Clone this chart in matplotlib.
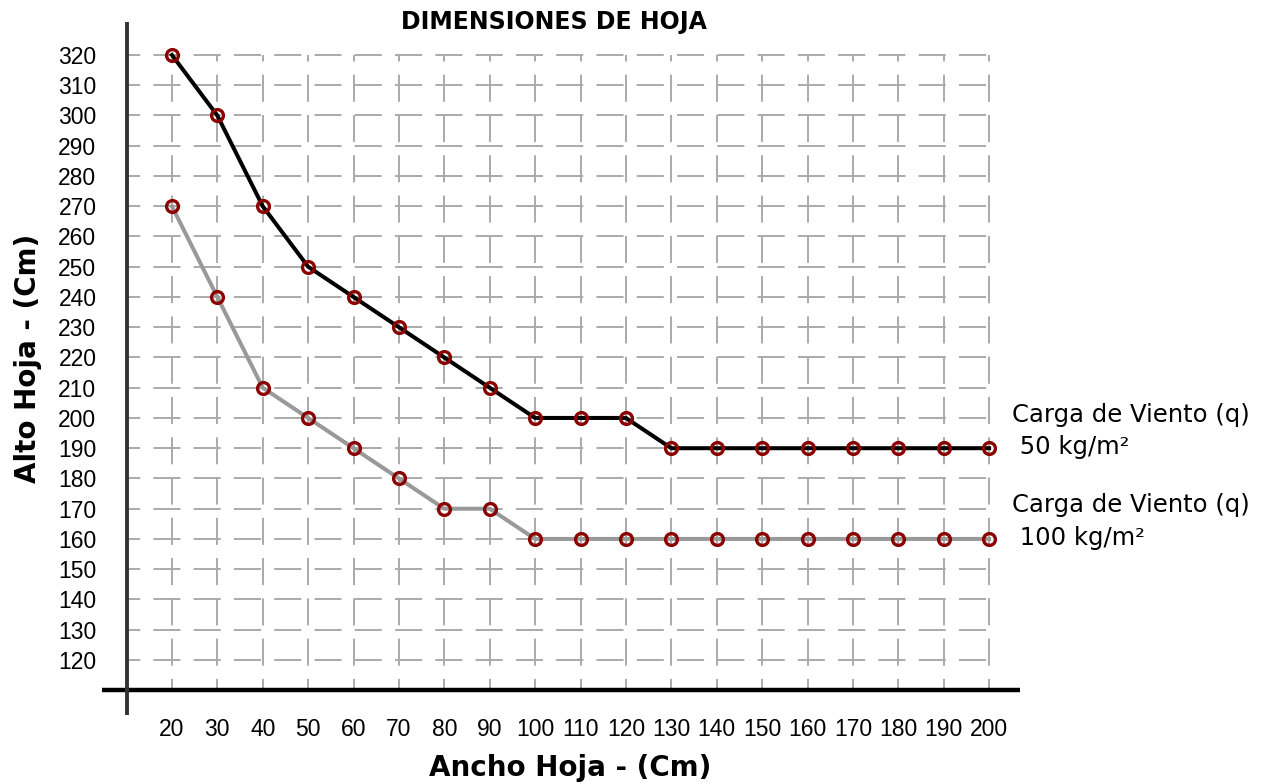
import numpy as np
import matplotlib
matplotlib.use('Agg')
import matplotlib.pyplot as plt

# data
anchos = [20, 30, 40, 50, 60, 70, 80, 90, 100, 110, 120, 130, 140, 150, 160, 170, 180, 190, 200]
alto_50 = [320, 300, 270, 250, 240, 230, 220, 210, 200, 200, 200, 190, 190, 190, 190, 190, 190, 190, 190]
alto_100 = [270, 240, 210, 200, 190, 180, 170, 170, 160, 160, 160, 160, 160, 160, 160, 160, 160, 160, 160]
y_ticks = list(range(120, 321, 10))
etiqueta_50 = "Carga de Viento (q)\n 50 kg/m²"
etiqueta_100 = "Carga de Viento (q)\n 100 kg/m²"

plt.rcParams['lines.scale_dashes'] = False
W, H = 1271, 784
fig = plt.figure(figsize=(W / 100, H / 100), dpi=100)
ax = fig.add_axes([102 / W, 1 - 715 / H, (1020 - 102) / W, (715 - 22) / H])

x = np.arange(len(anchos))
ax.set_xlim(-1.54, 18.68)
ax.set_ylim(101.8, 330.9)

# dashed grid
gcol = '#aaaaaa'
ax.hlines(y_ticks, -1, x[-1], colors=gcol, lw=1.4, linestyles=(10, (19.5, 9.5)), zorder=1)
ax.vlines(x, 110, 320, colors=gcol, lw=1.4, linestyles=(11.5, (19.5, 9.5)), zorder=1)

# axis lines
ax.axhline(110, color='black', lw=3.2, zorder=2)
ax.plot([-1, -1], [101.8, 330.9], color='#333333', lw=2.8, zorder=2, solid_capstyle='round')

mk = dict(marker='o', ms=8.5, mfc='none', mec='#8b0000', mew=2.4)
ax.plot(x, alto_100, color='#999999', lw=2.9, zorder=3, **mk)
ax.plot(x, alto_50, color='black', lw=2.9, zorder=4, **mk)

for s in ax.spines.values():
    s.set_visible(False)

ax.set_xticks(x)
ax.set_xticklabels([str(a) for a in anchos], fontsize=16.5, family='Liberation Sans')
ax.set_yticks(y_ticks)
ax.set_yticklabels([str(v) for v in y_ticks], fontsize=16.5, family='Liberation Sans')
ax.tick_params(length=0)
ax.tick_params(axis='y', pad=4)
ax.tick_params(axis='x', pad=2)

ax.annotate(etiqueta_50, xy=(x[-1], alto_50[-1]), xytext=(16.5, 12.5), textcoords='offset points',
            fontsize=17.5, family='DejaVu Sans', va='center', ha='left', annotation_clip=False,
            linespacing=1.45)
ax.annotate(etiqueta_100, xy=(x[-1], alto_100[-1]), xytext=(16.5, 12.5), textcoords='offset points',
            fontsize=17.5, family='DejaVu Sans', va='center', ha='left', annotation_clip=False,
            linespacing=1.45)

fig.text(554 / W, 1 - 22 / H, "DIMENSIONES DE HOJA", fontsize=17, fontweight='bold',
         family='DejaVu Sans', ha='center', va='center')
fig.text(570 / W, 1 - 768 / H, "Ancho Hoja - (Cm)", fontsize=20, fontweight='bold',
         family='DejaVu Sans', ha='center', va='center')
fig.text(28 / W, 1 - 358 / H, "Alto Hoja - (Cm)", fontsize=20, fontweight='bold',
         family='DejaVu Sans', ha='center', va='center', rotation=90)

fig.savefig('out.png', dpi=100)
